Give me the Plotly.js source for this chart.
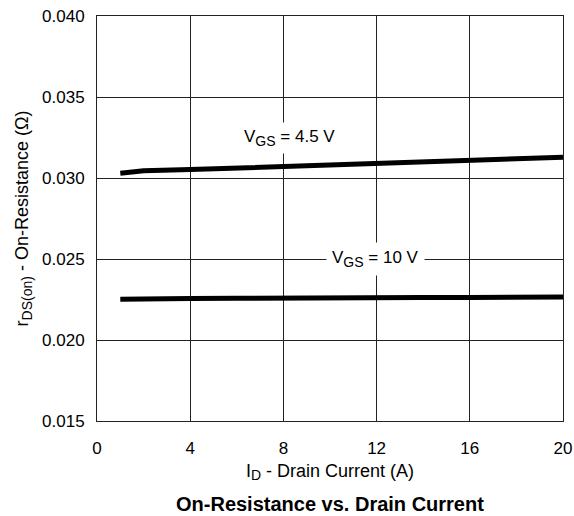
<!DOCTYPE html>
<html>
<head>
<meta charset="utf-8">
<script src="https://cdn.plot.ly/plotly-3.0.1.min.js"></script>
<style>
  html, body { margin: 0; padding: 0; background: #fff; }
  #chart { width: 574px; height: 516px; }
</style>
</head>
<body>
<div id="chart"></div>
<script>
// Drain current (A)
const drainCurrent = [1, 2, 4, 6, 8, 10, 12, 14, 16, 18, 20];
// On-resistance (ohm) at VGS = 4.5 V
const rdsVgs45 = [0.03030, 0.03044, 0.03052, 0.03062, 0.03072, 0.03084, 0.03094, 0.03104, 0.03113, 0.03121, 0.03128];
// On-resistance (ohm) at VGS = 10 V
const rdsVgs10 = [0.02251, 0.02255, 0.02256, 0.02257, 0.02260, 0.02261, 0.02262, 0.02262, 0.02263, 0.02264, 0.02265];

const xTicks = [0, 4, 8, 12, 16, 20];
const yTicks = [0.015, 0.020, 0.025, 0.030, 0.035, 0.040];
const yTickText = ['0.015', '0.020', '0.025', '0.030', '0.035', '0.040'];

const FONT = 'Liberation Sans, Arial, Helvetica, sans-serif';
// subscript with an explicit pixel size
const sub = (s, px) => '<sub><span style="font-size:' + px + 'px">' + s + '</span></sub>';

const traces = [
  { x: drainCurrent, y: rdsVgs45, mode: 'lines', line: { color: '#000', width: 5 }, hoverinfo: 'skip' },
  { x: drainCurrent, y: rdsVgs10, mode: 'lines', line: { color: '#000', width: 5 }, hoverinfo: 'skip' }
];

const layout = {
  width: 574,
  height: 516,
  margin: { l: 97, r: 11, t: 16, b: 95 },
  paper_bgcolor: '#fff',
  plot_bgcolor: '#fff',
  showlegend: false,
  font: { family: FONT, size: 17, color: '#000' },
  xaxis: {
    range: [0, 20],
    tickvals: xTicks,
    ticktext: xTicks.map(String),
    showgrid: true,
    gridcolor: '#222',
    gridwidth: 1,
    zeroline: false,
    showline: true,
    linecolor: '#222',
    linewidth: 1,
    mirror: true,
    ticks: '',
    ticklabelstandoff: 12,
    tickfont: { size: 17 },
    title: { text: 'I' + sub('D', 14) + ' - Drain Current (A)', font: { size: 18 }, standoff: 6 }
  },
  yaxis: {
    range: [0.015, 0.040],
    tickvals: yTicks,
    ticktext: yTickText,
    showgrid: true,
    gridcolor: '#222',
    gridwidth: 1,
    zeroline: false,
    showline: true,
    linecolor: '#222',
    linewidth: 1,
    mirror: true,
    ticks: '',
    ticklabelstandoff: 8,
    tickfont: { size: 17 },
    title: { text: 'r' + sub('DS(on)', 14) + ' - On-Resistance (\u03A9)', font: { size: 18 }, standoff: 8 }
  },
  annotations: [
    {
      x: 8.25, y: 0.0325, xref: 'x', yref: 'y',
      text: 'V' + sub('GS', 14) + ' = 4.5 V', showarrow: false,
      font: { size: 17 }, bgcolor: '#fff', borderpad: 4
    },
    {
      x: 11.95, y: 0.0250, xref: 'x', yref: 'y',
      text: 'V' + sub('GS', 14) + ' = 10 V', showarrow: false,
      font: { size: 17 }, bgcolor: '#fff', borderpad: 5
    },
    {
      x: 0.5, y: -0.205, xref: 'paper', yref: 'paper',
      xanchor: 'center', yanchor: 'middle',
      text: '<b>On-Resistance vs. Drain Current</b>', showarrow: false,
      font: { size: 20 }
    }
  ]
};

Plotly.newPlot('chart', traces, layout, { staticPlot: true, displayModeBar: false });
</script>
</body>
</html>
